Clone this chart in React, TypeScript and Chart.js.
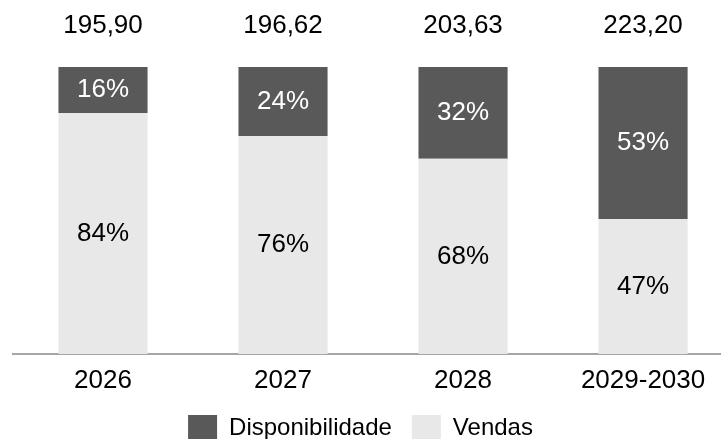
import { useEffect, useRef } from 'react';
import { Chart, registerables } from 'chart.js';

Chart.register(...registerables);

const CATEGORIES = ['2026', '2027', '2028', '2029-2030'];
const DISPONIBILIDADE = [16, 24, 32, 53];
const VENDAS = [84, 76, 68, 47];
const TOTALS = [195.9, 196.62, 203.63, 223.2];

const FONT = "'Liberation Sans', Arial, sans-serif";
const DARK = '#595959';
const LIGHT = '#e8e8e8';

const labelsPlugin = {
  id: 'barLabels',
  afterDatasetsDraw(chart: any) {
    const ctx = chart.ctx;
    ctx.save();
    ctx.font = `26px ${FONT}`;
    ctx.textAlign = 'center';
    ctx.textBaseline = 'middle';
    chart.data.datasets.forEach((ds: any, di: number) => {
      const meta = chart.getDatasetMeta(di);
      meta.data.forEach((bar: any, i: number) => {
        const v = ds.data[i].y;
        const { x, y, base } = bar.getProps(['x', 'y', 'base'], true);
        ctx.fillStyle = ds.labelColor;
        ctx.fillText(`${v}%`, x, (y + base) / 2);
      });
    });
    const xs = chart.scales.x;
    ctx.fillStyle = '#000';
    TOTALS.forEach((t, i) => {
      ctx.fillText(t.toFixed(2).replace('.', ','), xs.getPixelForValue(i), chart.chartArea.top - 41);
    });
    ctx.restore();
  },
};

export default function App() {
  const ref = useRef<HTMLCanvasElement | null>(null);

  useEffect(() => {
    if (!ref.current) return;
    Chart.defaults.font.family = FONT;
    const chart = new Chart(ref.current, {
      type: 'bar',
      data: {
        datasets: [
          {
            label: 'Vendas',
            data: VENDAS.map((v, i) => ({ x: i, y: v })),
            backgroundColor: LIGHT,
            labelColor: '#000',
          } as any,
          {
            label: 'Disponibilidade',
            data: DISPONIBILIDADE.map((v, i) => ({ x: i, y: v })),
            backgroundColor: DARK,
            labelColor: '#fff',
          } as any,
        ],
      },
      options: {
        animation: false,
        responsive: false,
        layout: { padding: { top: 67, left: 0, right: 0, bottom: 0 } },
        datasets: { bar: { categoryPercentage: 1, barPercentage: 0.495 } },
        scales: {
          x: {
            type: 'linear',
            offset: false,
            min: -0.5,
            max: 3.433,
            stacked: true,
            grid: { display: false, drawTicks: true, tickLength: 13, offset: false },
            border: { display: true, color: '#a6a6a6', width: 2 },
            afterBuildTicks: (s: any) => {
              s.ticks = CATEGORIES.map((_, i) => ({ value: i }));
            },
            ticks: {
              padding: 1,
              color: '#000',
              autoSkip: false,
              maxRotation: 0,
              font: { size: 26, lineHeight: 1 },
              callback: (v: any) => CATEGORIES[v] ?? '',
            },
          },
          y: {
            stacked: true,
            min: 0,
            max: 100,
            grid: { display: false, drawTicks: false },
            border: { display: false },
            ticks: { display: false },
            afterFit: (s: any) => {
              s.width = 13;
            },
          },
        },
        plugins: {
          legend: {
            position: 'bottom',
            reverse: true,
            labels: {
              boxWidth: 29,
              boxHeight: 26,
              padding: 20,
              color: '#000',
              font: { size: 24 },
            },
          },
          tooltip: { enabled: false },
        },
      } as any,
      plugins: [labelsPlugin],
    });
    return () => chart.destroy();
  }, []);

  return (
    <div
      style={{
        position: 'fixed',
        left: 0,
        top: 0,
        width: 721,
        height: 439,
        overflow: 'hidden',
        background: '#fff',
      }}
    >
      <canvas ref={ref} width={721} height={451} style={{ display: 'block' }} />
    </div>
  );
}
